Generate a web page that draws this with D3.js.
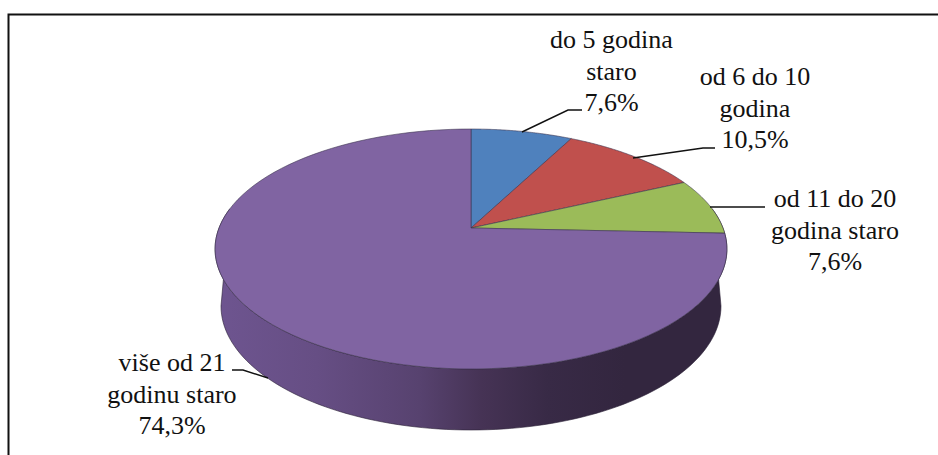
<!DOCTYPE html>
<html><head><meta charset="utf-8">
<script src="https://cdn.jsdelivr.net/npm/d3@7/dist/d3.min.js"></script>
<style>html,body{margin:0;padding:0;background:#fff}svg{display:block}</style>
</head><body><svg id="c" width="938" height="455"></svg>
<script>
const categories = [["do 5 godina","staro"],["od 6 do 10","godina"],["od 11 do 20","godina staro"],["više od 21","godinu staro"]];
const values = [7.6,10.5,7.6,74.3];
const valueLabels = ["7,6%","10,5%","7,6%","74,3%"];
const colors = ["#4f81bd","#c0504d","#9bbb59","#8064a2"];

const svg = d3.select("#c");
svg.append("path").attr("d","M8.5,455V14.5H938").attr("fill","none").attr("stroke","#111").attr("stroke-width",2);

// Perspective projection of the pie disc
const cx=471, cy=228, a=116.3, b=252, k=0.175;
const proj=t=>{const d=1+k*Math.cos(t);return [cx+b*Math.sin(t)/d, cy-a*Math.cos(t)/d];};
const arcs=d3.pie().sort(null).value(d=>d)(values);
const line=d3.line();
const sample=(s,e)=>d3.range(0,97).map(i=>proj(s+(e-s)*i/96));

const grad=svg.append("defs").append("linearGradient").attr("id","side").attr("gradientUnits","userSpaceOnUse").attr("x1",215).attr("x2",727).attr("y1",0).attr("y2",0);
[[0,"#6e5590"],[0.2,"#664e84"],[0.4,"#57426f"],[0.52,"#463355"],[0.65,"#382a46"],[0.8,"#33263f"],[1,"#33263f"]].forEach(s=>grad.append("stop").attr("offset",s[0]).attr("stop-color",s[1]));

// side wall: front half of the rim, down to a slightly narrower lower ellipse
const tR=Math.PI*0.5-0.17, tL=Math.PI*1.5+0.17;
const front=sample(tR,tL);
const lower=d3.range(0,97).map(i=>{const u=Math.PI*i/96;return [471+250*Math.cos(u),306+124*Math.sin(u)];});
const wall=front.concat(lower.reverse());
svg.append("path").attr("d",line(wall)+"Z").attr("fill","url(#side)").attr("stroke","#2a2035").attr("stroke-width",0.6);

// top face
svg.selectAll("path.slice").data(arcs).join("path").attr("class","slice")
 .attr("d",d=>line([[cx,cy]].concat(sample(d.startAngle,d.endAngle)))+"Z")
 .attr("fill",(d,i)=>colors[i]).attr("stroke","#3d3550").attr("stroke-width",0.7).attr("stroke-opacity",0.85);

// leader lines
const leaders=[[[522,132],[568,110],[582,110]],[[633,158],[703,148],[715,148]],[[710,207],[765,207]],[[268,378],[243,370],[232,370]]];
svg.selectAll("path.leader").data(leaders).join("path").attr("class","leader")
 .attr("d",d=>line(d)).attr("fill","none").attr("stroke","#111").attr("stroke-width",1.4);

// labels
const pos=[[611.5,48],[755,85],[835,207],[172,371]];
const g=svg.selectAll("text.lab").data(categories).join("text").attr("class","lab")
 .attr("font-family","'Liberation Serif',serif").attr("font-size",26).attr("fill","#111").attr("text-anchor","middle");
g.each(function(d,i){
  const t=d3.select(this);
  d.concat(valueLabels[i]).forEach((s,j)=>t.append("tspan").attr("x",pos[i][0]).attr("y",pos[i][1]+j*31.5).text(s));
});
</script></body></html>
